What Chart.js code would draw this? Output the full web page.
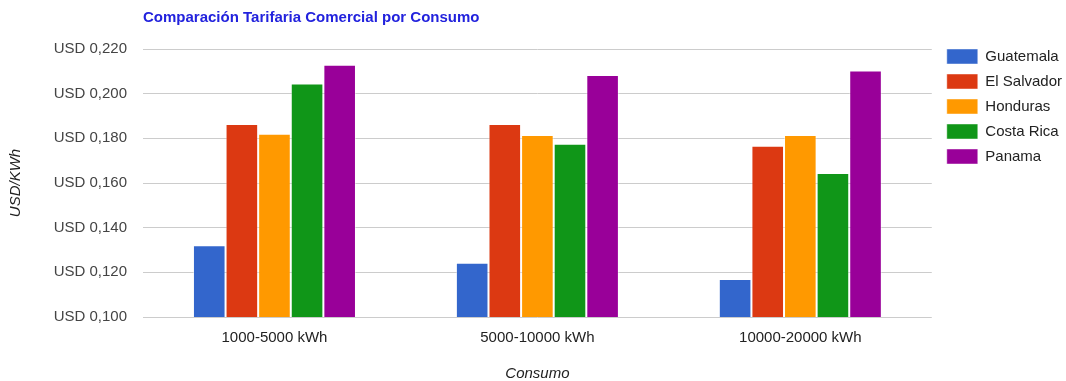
<!DOCTYPE html>
<html>
<head>
<meta charset="utf-8">
<title>Comparación Tarifaria Comercial por Consumo</title>
<script src="https://cdn.jsdelivr.net/npm/chart.js@4.4.1/dist/chart.umd.min.js"></script>
<style>
  html, body { margin: 0; padding: 0; background: #ffffff; }
  #chart { display: block; }
</style>
</head>
<body>
<canvas id="chart" width="1066" height="381"></canvas>
<script>
// Consumption brackets (x axis)
const categories = ['1000-5000 kWh', '5000-10000 kWh', '10000-20000 kWh'];

// Commercial tariff, USD per kWh, by country
const guatemala  = [0.1321, 0.1243, 0.1170];
const elSalvador = [0.1864, 0.1864, 0.1767];
const honduras   = [0.1820, 0.1815, 0.1815];
const costaRica  = [0.2046, 0.1776, 0.1645];
const panama     = [0.2129, 0.2084, 0.2104];

// Value axis ticks
const yTicks = [0.100, 0.120, 0.140, 0.160, 0.180, 0.200, 0.220];

const FONT = '"Liberation Sans", Arial, sans-serif';

function series(label, values, color) {
  return {
    label: label,
    data: values,
    backgroundColor: color,
    borderColor: 'rgba(255,255,255,0.45)',
    borderWidth: 1
  };
}

// Puts the legend just right of the plot, its first row level with the top gridline
const legendPlacement = {
  id: 'legendPlacement',
  afterLayout(chart) {
    const lg = chart.legend;
    const pad = lg.options.labels.padding;
    const left = chart.chartArea.right + 15 - pad;
    const top = chart.chartArea.top - pad;
    lg.right += left - lg.left;
    lg.left = left;
    lg.bottom += top - lg.top;
    lg.top = top;
  }
};

new Chart(document.getElementById('chart'), {
  type: 'bar',
  data: {
    labels: categories,
    datasets: [
      series('Guatemala', guatemala, '#3366cc'),
      series('El Salvador', elSalvador, '#dc3912'),
      series('Honduras', honduras, '#ff9900'),
      series('Costa Rica', costaRica, '#109618'),
      series('Panama', panama, '#990099')
    ]
  },
  options: {
    responsive: false,
    animation: false,
    devicePixelRatio: 1,
    layout: { padding: { top: 0, right: -1, bottom: 0, left: 0 } },
    datasets: {
      bar: { categoryPercentage: 0.62, barPercentage: 1 }
    },
    plugins: {
      title: {
        display: true,
        text: 'Comparación Tarifaria Comercial por Consumo',
        align: 'start',
        fullSize: false,
        color: '#2222dd',
        font: { family: FONT, size: 15, weight: 'bold' },
        padding: { top: 9, bottom: 22 }
      },
      legend: {
        position: 'right',
        align: 'start',
        labels: {
          boxWidth: 31,
          boxHeight: 15,
          padding: 10,
          color: '#222222',
          font: { family: FONT, size: 15 }
        }
      },
      tooltip: { enabled: false }
    },
    scales: {
      x: {
        grid: { display: false, drawTicks: false },
        border: { display: false },
        ticks: { padding: 12, color: '#222222', font: { family: FONT, size: 15 } },
        title: {
          display: true,
          text: 'Consumo',
          color: '#222222',
          font: { family: FONT, size: 15, style: 'italic', lineHeight: 1 },
          padding: { top: 0, bottom: 0 }
        },
        afterFit(scale) { scale.height = 64; }
      },
      y: {
        min: yTicks[0],
        max: yTicks[yTicks.length - 1],
        afterBuildTicks(scale) { scale.ticks = yTicks.map(v => ({ value: v })); },
        grid: { color: '#cccccc', lineWidth: 1, drawTicks: false },
        border: { display: false },
        ticks: {
          padding: 16,
          color: '#444444',
          font: { family: FONT, size: 15 },
          callback: v => 'USD ' + Number(v).toFixed(3).replace('.', ',')
        },
        title: {
          display: true,
          text: 'USD/KWh',
          color: '#222222',
          font: { family: FONT, size: 15, style: 'italic' },
          padding: { top: 7, bottom: 0 }
        },
        afterFit(scale) { scale.width = 143; }
      }
    }
  },
  plugins: [legendPlacement]
});
</script>
</body>
</html>
